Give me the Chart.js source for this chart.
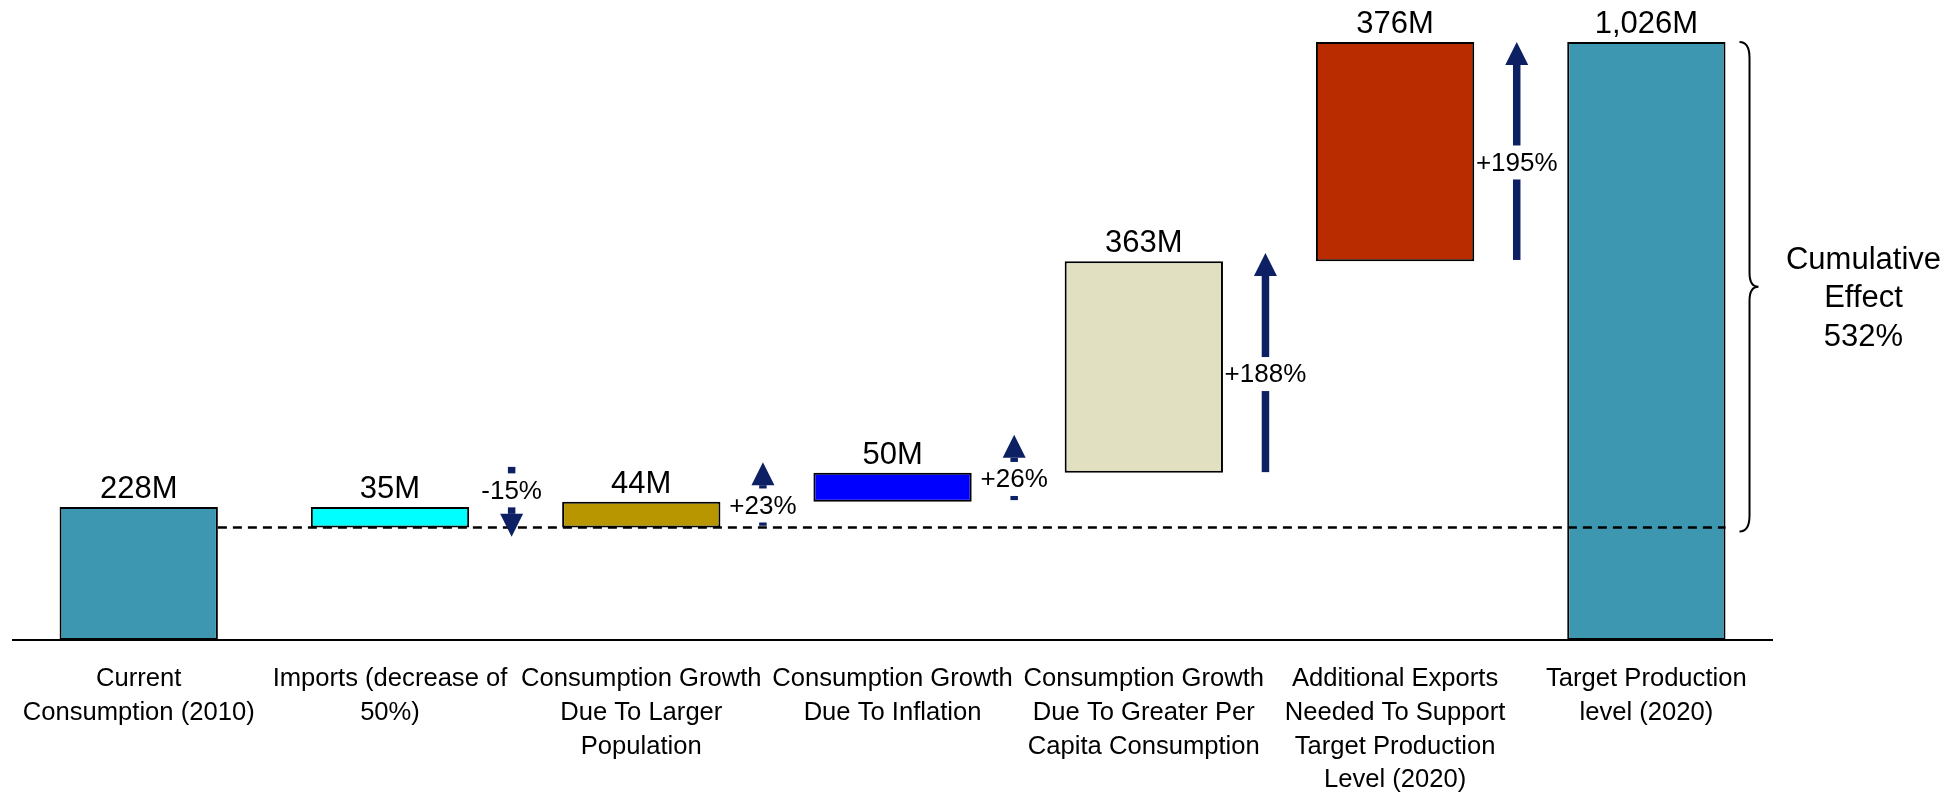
<!DOCTYPE html>
<html><head><meta charset="utf-8">
<script src="https://cdn.jsdelivr.net/npm/chart.js@4"></script>
<style>html,body{margin:0;padding:0;background:#fff}#wrap{width:1952px;height:793px;position:relative}</style>
</head><body><div id="wrap"><canvas id="c"></canvas></div>
<script>
const categories = [
  ['Current', 'Consumption (2010)'],
  ['Imports (decrease of', '50%)'],
  ['Consumption Growth', 'Due To Larger', 'Population'],
  ['Consumption Growth', 'Due To Inflation'],
  ['Consumption Growth', 'Due To Greater Per', 'Capita Consumption'],
  ['Additional Exports', 'Needed To Support', 'Target Production', 'Level (2020)'],
  ['Target Production', 'level (2020)']
];
const stepValues = [228, -35, 44, 50, 363, 376, 1026];   // millions
const isTotal = [true, false, false, false, false, false, true];
const valueLabels = ['228M', '35M', '44M', '50M', '363M', '376M', '1,026M'];
const pctLabels = ['-15%', '+23%', '+26%', '+188%', '+195%'];
const arrowFrom = [297, 196, 240, 288, 652];
const arrowTo = [177, 305, 352, 664, 1026];
const cumulativeLabel = ['Cumulative', 'Effect', '532%'];
const barColors = ['#3e97b0', '#00ffff', '#b89600', '#0000ff', '#e1e1c2', '#b82c00', '#3e97b0'];

// build floating ranges
const ranges = [];
let level = 0;
stepValues.forEach((v, i) => {
  if (isTotal[i]) { ranges.push([0, v]); level = v; }
  else { const nl = level + v; ranges.push([Math.min(level, nl), Math.max(level, nl)]); level = nl; }
});
const baseLevel = ranges[1][0];

const FONT = '"Liberation Sans", Arial, sans-serif';
Chart.defaults.font.family = FONT;
Chart.defaults.color = '#000';

const overlay = {
  id: 'overlay',
  afterDatasetsDraw(chart) {
    const { ctx, scales: { x, y } } = chart;
    const meta = chart.getDatasetMeta(0);
    ctx.save();
    // value labels
    ctx.font = '31px ' + FONT;
    ctx.fillStyle = '#000';
    ctx.textAlign = 'center';
    ctx.textBaseline = 'alphabetic';
    ranges.forEach((r, i) => {
      const top = y.getPixelForValue(r[1]);
      ctx.fillText(valueLabels[i], x.getPixelForValue(i), top - 9);
    });
    // dashed baseline
    const b0 = meta.data[0], bl = meta.data[meta.data.length - 1];
    const yb = y.getPixelForValue(baseLevel);
    ctx.setLineDash([9, 6]);
    ctx.lineWidth = 2.5;
    ctx.strokeStyle = '#000';
    ctx.beginPath();
    ctx.moveTo(b0.x + b0.width / 2, yb);
    ctx.lineTo(bl.x + bl.width / 2, yb);
    ctx.stroke();
    ctx.setLineDash([]);
    // arrows
    const navy = '#0e2064';
    ctx.font = '26px ' + FONT;
    ctx.textBaseline = 'middle';
    pctLabels.forEach((lab, k) => {
      const ax = (x.getPixelForValue(k + 1) + x.getPixelForValue(k + 2)) / 2 - 4;
      const yf = y.getPixelForValue(arrowFrom[k]);
      const yt = y.getPixelForValue(arrowTo[k]);
      const dir = Math.sign(yt - yf);
      const headLen = 23, headHalf = 11.5, sw = 7.5;
      const hb = yt - dir * headLen;
      const mid = (yf + hb) / 2;
      const gap = 17;
      ctx.fillStyle = navy;
      const segs = [[yf, mid - dir * gap], [mid + dir * gap, hb]];
      segs.forEach(([a, b]) => {
        if ((b - a) * dir > 0) ctx.fillRect(ax - sw / 2, Math.min(a, b), sw, Math.abs(b - a));
      });
      ctx.beginPath();
      ctx.moveTo(ax - headHalf, hb);
      ctx.lineTo(ax + headHalf, hb);
      ctx.lineTo(ax, yt);
      ctx.closePath();
      ctx.fill();
      ctx.fillStyle = '#000';
      ctx.fillText(lab, ax, mid + 1);
    });
    // brace
    const xb = bl.x + bl.width / 2 + 14;
    const top = y.getPixelForValue(ranges[ranges.length - 1][1]);
    const bottom = yb + 4;
    const midB = (top + bottom) / 2;
    ctx.strokeStyle = '#000';
    ctx.lineWidth = 2;
    ctx.beginPath();
    ctx.moveTo(xb, top);
    ctx.quadraticCurveTo(xb + 10, top, xb + 10, top + 16);
    ctx.lineTo(xb + 10, midB - 14);
    ctx.quadraticCurveTo(xb + 10, midB, xb + 19, midB);
    ctx.quadraticCurveTo(xb + 10, midB, xb + 10, midB + 14);
    ctx.lineTo(xb + 10, bottom - 16);
    ctx.quadraticCurveTo(xb + 10, bottom, xb, bottom);
    ctx.stroke();
    // cumulative text
    ctx.fillStyle = '#000';
    ctx.font = '31px ' + FONT;
    ctx.textBaseline = 'alphabetic';
    cumulativeLabel.forEach((t, i) => {
      ctx.fillText(t, xb + 124, midB - 18 + i * 38.5);
    });
    ctx.restore();
  }
};

new Chart(document.getElementById('c'), {
  type: 'bar',
  data: {
    labels: categories,
    datasets: [{
      data: ranges,
      backgroundColor: barColors,
      borderColor: '#000',
      borderWidth: 2,
      borderSkipped: false,
      categoryPercentage: 1,
      barPercentage: 0.63
    }]
  },
  options: {
    responsive: true,
    maintainAspectRatio: false,
    animation: false,
    layout: { padding: { left: 11, right: 180, top: 0, bottom: 0 } },
    plugins: { legend: { display: false }, tooltip: { enabled: false } },
    scales: {
      x: {
        grid: { display: false, drawTicks: false },
        border: { display: true, color: '#000', width: 2 },
        ticks: {
          autoSkip: false, maxRotation: 0, minRotation: 0, padding: 22,
          color: '#000',
          font: { size: 25.6, lineHeight: 1.32 }
        },
        afterFit(scale) { scale.height = 153; }
      },
      y: { display: false, min: 0, max: 1098 }
    }
  },
  plugins: [overlay]
});
</script>
</body></html>
